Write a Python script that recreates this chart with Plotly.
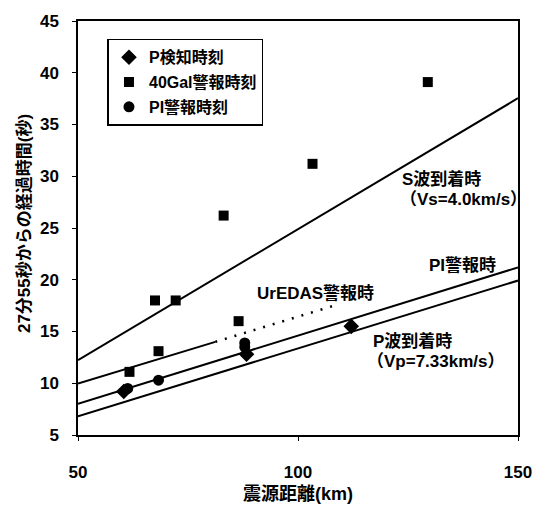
import plotly.graph_objects as go

# ---- data ----
# P検知時刻 (diamonds)
p_det_x = [60.4, 88.3, 112.1]
p_det_y = [9.2, 12.8, 15.5]
# 40Gal警報時刻 (squares)
gal_x = [61.7, 67.5, 68.3, 72.2, 83.1, 86.5, 103.3, 129.5]
gal_y = [11.1, 18.0, 13.1, 18.0, 26.2, 16.0, 31.2, 39.1]
# PI警報時刻 (circles)
pi_x = [61.3, 68.3, 87.9, 87.9]
pi_y = [9.5, 10.3, 13.9, 13.5]

# reference lines
s_line_x = [50, 150]
s_line_y = [12.24, 37.54]
pi_line_x = [50, 150]
pi_line_y = [8.02, 21.19]
p_line_x = [50, 150]
p_line_y = [6.81, 19.92]
ur_solid_x = [50, 81.2]
ur_solid_y = [9.98, 14.0]
ur_dot_x = [81.2, 109.0]
ur_dot_y = [14.0, 17.6]

x_ticks = [50, 100, 150]
y_ticks = [5, 10, 15, 20, 25, 30, 35, 40, 45]

FONT = "Liberation Sans, Arial, Noto Sans CJK JP, sans-serif"
BLACK = "#000000"

fig = go.Figure()

line_style = dict(color=BLACK, width=2)
for lx, ly in [(s_line_x, s_line_y), (pi_line_x, pi_line_y), (p_line_x, p_line_y), (ur_solid_x, ur_solid_y)]:
    fig.add_trace(go.Scatter(x=lx, y=ly, mode="lines", line=line_style,
                             showlegend=False, hoverinfo="skip"))
fig.add_trace(go.Scatter(x=ur_dot_x, y=ur_dot_y, mode="lines",
                         line=dict(color=BLACK, width=2.5, dash="2px,8px"),
                         showlegend=False, hoverinfo="skip"))

fig.add_trace(go.Scatter(x=p_det_x, y=p_det_y, mode="markers", name="P検知時刻",
                         legendgroup="a",
                         marker=dict(symbol="diamond", size=12, color=BLACK)))
fig.add_trace(go.Scatter(x=gal_x, y=gal_y, mode="markers", name="40Gal警報時刻",
                         legendgroup="b",
                         marker=dict(symbol="square", size=10, color=BLACK)))
fig.add_trace(go.Scatter(x=pi_x, y=pi_y, mode="markers", name="PI警報時刻",
                         legendgroup="c",
                         marker=dict(symbol="circle", size=11, color=BLACK)))

ann_font = dict(family=FONT, size=17, color=BLACK, weight="bold")
labels = [
    ("S波到着時", 123.2, 29.75),
    ("（Vs=4.0km/s）", 122.8, 27.8),
    ("PI警報時", 129.3, 21.4),
    ("UrEDAS警報時", 90.2, 18.65),
    ("P波到着時", 116.5, 14.1),
    ("（Vp=7.33km/s）", 115.3, 12.14),
]
for txt, ax_, ay_ in labels:
    fig.add_annotation(x=ax_, y=ay_, xref="x", yref="y", text=txt, showarrow=False,
                       xanchor="left", yanchor="middle", font=ann_font)

fig.add_annotation(x=-0.12, y=0.51, xref="paper", yref="paper",
                   text="27分55秒からの経過時間(秒)", textangle=-90, showarrow=False,
                   xanchor="center", yanchor="middle",
                   font=dict(family=FONT, size=17, color=BLACK, weight="bold"))
fig.add_annotation(x=0.5, y=-0.143, xref="paper", yref="paper",
                   text="震源距離(km)", showarrow=False,
                   xanchor="center", yanchor="middle",
                   font=dict(family=FONT, size=18, color=BLACK, weight="bold"))

axis_common = dict(showline=True, linecolor=BLACK, linewidth=1.5, mirror=True,
                   showgrid=False, zeroline=False, ticks="outside", ticklen=4,
                   tickcolor=BLACK,
                   tickfont=dict(family=FONT, size=17, color=BLACK, weight="bold"))

fig.update_layout(
    width=544, height=505,
    margin=dict(l=78, r=17, t=15, b=70),
    paper_bgcolor="white", plot_bgcolor="white",
    xaxis=dict(range=[50, 150], tickvals=x_ticks, ticklabelstandoff=17, **axis_common),
    yaxis=dict(range=[5, 45], tickvals=y_ticks, ticklabelstandoff=10, **axis_common),
    legend=dict(x=0.067, y=0.957, xanchor="left", yanchor="top",
                bordercolor=BLACK, borderwidth=1.5, bgcolor="white",
                tracegroupgap=1, itemwidth=30,
                font=dict(family=FONT, size=16, color=BLACK, weight="bold")),
    showlegend=True,
)

fig.write_html("out.html")
